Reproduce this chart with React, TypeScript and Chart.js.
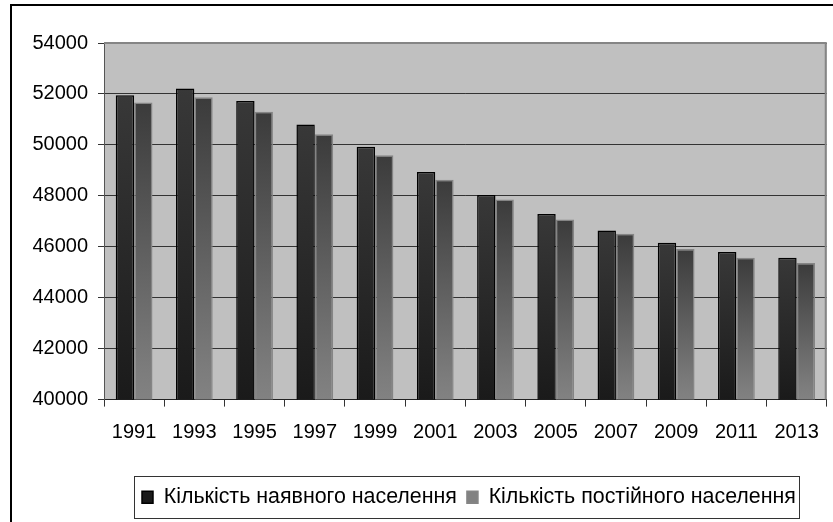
import React, { useEffect, useRef } from 'react';
import { Chart, registerables } from 'chart.js';

Chart.register(...registerables);

const years = ['1991', '1993', '1995', '1997', '1999', '2001', '2003', '2005', '2007', '2009', '2011', '2013'];
const presentPopulation = [51950, 52210, 51725, 50800, 49930, 48940, 48030, 47290, 46640, 46160, 45790, 45570];
const permanentPopulation = [51660, 51870, 51300, 50420, 49590, 48630, 47855, 47070, 46510, 45910, 45570, 45360];
const seriesLabels = ['Кількість наявного населення', 'Кількість постійного населення'];
const yMin = 40000;
const yMax = 54000;
const yStep = 2000;

const FONT = '"Liberation Sans", Arial, sans-serif';

type Stop = [number, string];
const darkStops: Stop[] = [[0, '#383838'], [1, '#1a1a1a']];
const lightStops: Stop[] = [[0, '#3b3b3b'], [0.9, '#7c7c7c'], [1, '#828282']];

function gradientFor(stops: Stop[], fallback: string) {
  return (ctx: any) => {
    const chart = ctx.chart;
    const area = chart.chartArea;
    if (!area || ctx.type !== 'data' || !chart.scales.y) return fallback;
    const top = chart.scales.y.getPixelForValue(ctx.raw);
    const bottom = area.bottom;
    if (!isFinite(top) || bottom - top < 1) return fallback;
    const g = chart.ctx.createLinearGradient(0, top, 0, bottom);
    stops.forEach(([o, c]) => g.addColorStop(o, c));
    return g;
  };
}

const LEGEND_START_X = 142;

const decorPlugin = {
  id: 'decor',
  beforeDraw(chart: any) {
    const { ctx, chartArea: a } = chart;
    ctx.save();
    ctx.fillStyle = '#ffffff';
    ctx.fillRect(0, 0, chart.width, chart.height);
    ctx.fillStyle = '#c0c0c0';
    ctx.fillRect(a.left, a.top, a.right - a.left, a.bottom - a.top);
    ctx.restore();
  },
  afterLayout(chart: any) {
    const lg = chart.legend;
    if (lg && lg.lineWidths && lg.lineWidths.length) {
      const pad = lg.options.labels.padding;
      const cur = (lg.left + pad + lg.right - lg.lineWidths[0]) / 2;
      const d = LEGEND_START_X - cur;
      lg.left += d;
      lg.right += d;
    }
  },
  beforeDatasetsDraw(chart: any) {
    const { ctx, chartArea: a } = chart;
    ctx.save();
    ctx.strokeStyle = '#858585';
    ctx.lineWidth = 2;
    ctx.beginPath();
    ctx.moveTo(a.left, a.top);
    ctx.lineTo(a.right - 1, a.top);
    ctx.lineTo(a.right - 1, a.bottom);
    ctx.stroke();
    ctx.restore();
  },
  afterDraw(chart: any) {
    const { ctx } = chart;
    ctx.save();
    const boxes = chart.legend ? chart.legend.legendHitBoxes : [];
    if (boxes && boxes.length) {
      const first = boxes[0];
      const last = boxes[boxes.length - 1];
      const x0 = first.left - 8;
      const x1 = last.left + last.width + 3;
      const yc = first.top + first.height / 2;
      ctx.strokeStyle = '#333333';
      ctx.lineWidth = 1;
      ctx.strokeRect(Math.round(x0) + 0.5, Math.round(yc - 21) + 0.5, Math.round(x1 - x0), 42);
    }
    ctx.strokeStyle = '#000000';
    ctx.lineWidth = 2;
    ctx.strokeRect(11, 5, 1000, 1000);
    ctx.restore();
  },
};

export default function App() {
  const ref = useRef<HTMLCanvasElement | null>(null);
  useEffect(() => {
    if (!ref.current) return;
    const chart = new Chart(ref.current, {
      type: 'bar',
      data: {
        labels: years,
        datasets: [
          {
            label: seriesLabels[0],
            data: presentPopulation,
            backgroundColor: gradientFor(darkStops, '#2a2a2a'),
            borderColor: '#000000',
            borderWidth: 1.5,
            barPercentage: 1,
            categoryPercentage: 0.61,
          },
          {
            label: seriesLabels[1],
            data: permanentPopulation,
            backgroundColor: gradientFor(lightStops, '#6a6a6a'),
            borderColor: '#858585',
            borderWidth: 1.5,
            barPercentage: 1,
            categoryPercentage: 0.61,
          },
        ],
      },
      options: {
        animation: false,
        responsive: false,
        devicePixelRatio: 1,
        layout: { padding: { left: 0, right: 3, top: 43, bottom: 4 } },
        scales: {
          x: {
            grid: { display: true, drawOnChartArea: false, drawTicks: true, tickLength: 7, color: '#333333', offset: true },
            border: { display: true, color: '#222222', width: 1 },
            ticks: { color: '#000000', font: { family: FONT, size: 20 }, padding: 14, maxRotation: 0, autoSkip: false },
            afterFit: (s: any) => { s.height = 77; },
          },
          y: {
            min: yMin,
            max: yMax,
            grid: { color: '#333333', lineWidth: 1, drawTicks: true, tickLength: 6, tickColor: '#333333' },
            border: { display: true, color: '#555555', width: 1 },
            ticks: {
              stepSize: yStep,
              color: '#000000',
              font: { family: FONT, size: 20 },
              padding: 10,
              callback: (v: any) => String(v),
            },
            afterFit: (s: any) => { s.width = 104; },
          },
        },
        plugins: {
          legend: {
            display: true,
            position: 'bottom',
            labels: {
              color: '#000000',
              font: { family: FONT, size: 21.4 },
              boxWidth: 11,
              boxHeight: 12,
              padding: 10,
            },
          },
          tooltip: { enabled: false },
        },
      },
      plugins: [decorPlugin],
    });
    return () => chart.destroy();
  }, []);
  return (
    <div style={{ position: 'absolute', left: 0, top: 0, width: 833, height: 522 }}>
      <canvas ref={ref} width={833} height={522} style={{ display: 'block', width: 833, height: 522 }} />
    </div>
  );
}
